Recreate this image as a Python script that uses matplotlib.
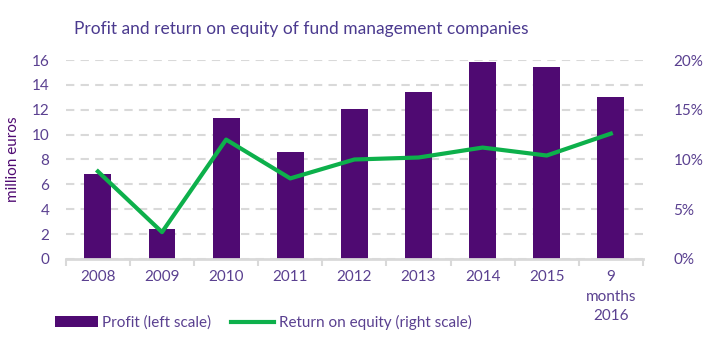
import numpy as np
import matplotlib.pyplot as plt
from matplotlib.ticker import FuncFormatter, FixedLocator

plt.rcParams['font.family'] = ['Lato', 'DejaVu Sans']

categories = ["2008", "2009", "2010", "2011", "2012", "2013", "2014", "2015", "9\nmonths\n2016"]
profit = [6.8, 2.4, 11.3, 8.6, 12.1, 13.4, 15.8, 15.4, 13.0]   # million euros
roe = [8.8, 2.7, 12.0, 8.1, 10.0, 10.2, 11.2, 10.4, 12.6]      # %

purple = "#4f0a72"
green = "#0db04b"
txt = "#5a4090"
grid = "#d9d9d9"

fig = plt.figure(figsize=(7.08, 3.6), dpi=100)
ax = fig.add_axes([0.093, 0.2806, 0.815, 0.5527])
ax2 = ax.twinx()

x = np.arange(len(categories))
ax.bar(x, profit, width=0.42, color=purple, zorder=2, label="Profit (left scale)")
ax2.plot(x, roe, color=green, lw=3, zorder=3, label="Return on equity (right scale)")

ax.set_xlim(-0.5, len(categories) - 0.5)
ax.set_ylim(0, 16)
ax.set_yticks(range(0, 17, 2))
ax2.set_ylim(0, 20)
ax2.set_yticks(range(0, 21, 5))
ax2.yaxis.set_major_formatter(FuncFormatter(lambda v, p: f"{v:.0f}%"))

ax.yaxis.grid(True, color=grid, lw=1.5, ls=(0, (4, 3)), zorder=0)
ax.set_axisbelow(True)

ax.set_xticks(x)
ax.set_xticklabels(categories, color=txt, fontsize=11, linespacing=1.5, va="top")
ax.xaxis.set_minor_locator(FixedLocator(np.arange(-0.5, len(categories), 1)))
ax.tick_params(axis="x", which="major", length=0, pad=8)
ax.tick_params(axis="x", which="minor", length=5, width=1.5, color=grid)
ax.tick_params(axis="y", length=0, labelcolor=txt, labelsize=11, pad=12)
ax2.tick_params(axis="y", length=0, labelcolor=txt, labelsize=11, pad=22)

for a in (ax, ax2):
    for s in ("top", "left", "right", "bottom"):
        a.spines[s].set_visible(False)
ax.spines["bottom"].set_visible(True)
ax.spines["bottom"].set_color(grid)
ax.spines["bottom"].set_linewidth(2)

ax.set_ylabel("million euros", color=purple, fontsize=11, labelpad=8)

fig.text(0.105, 0.905, "Profit and return on equity of fund management companies",
         color="#4b3a8f", fontsize=12.5)

h1, l1 = ax.get_legend_handles_labels()
h2, l2 = ax2.get_legend_handles_labels()
fig.legend(h1 + h2, l1 + l2, loc="lower left", bbox_to_anchor=(0.058, 0.045), ncol=2,
           frameon=False, fontsize=11, labelcolor=txt, handlelength=2.8,
           handletextpad=0.3, columnspacing=1.3)

fig.savefig("out.png", dpi=100)
